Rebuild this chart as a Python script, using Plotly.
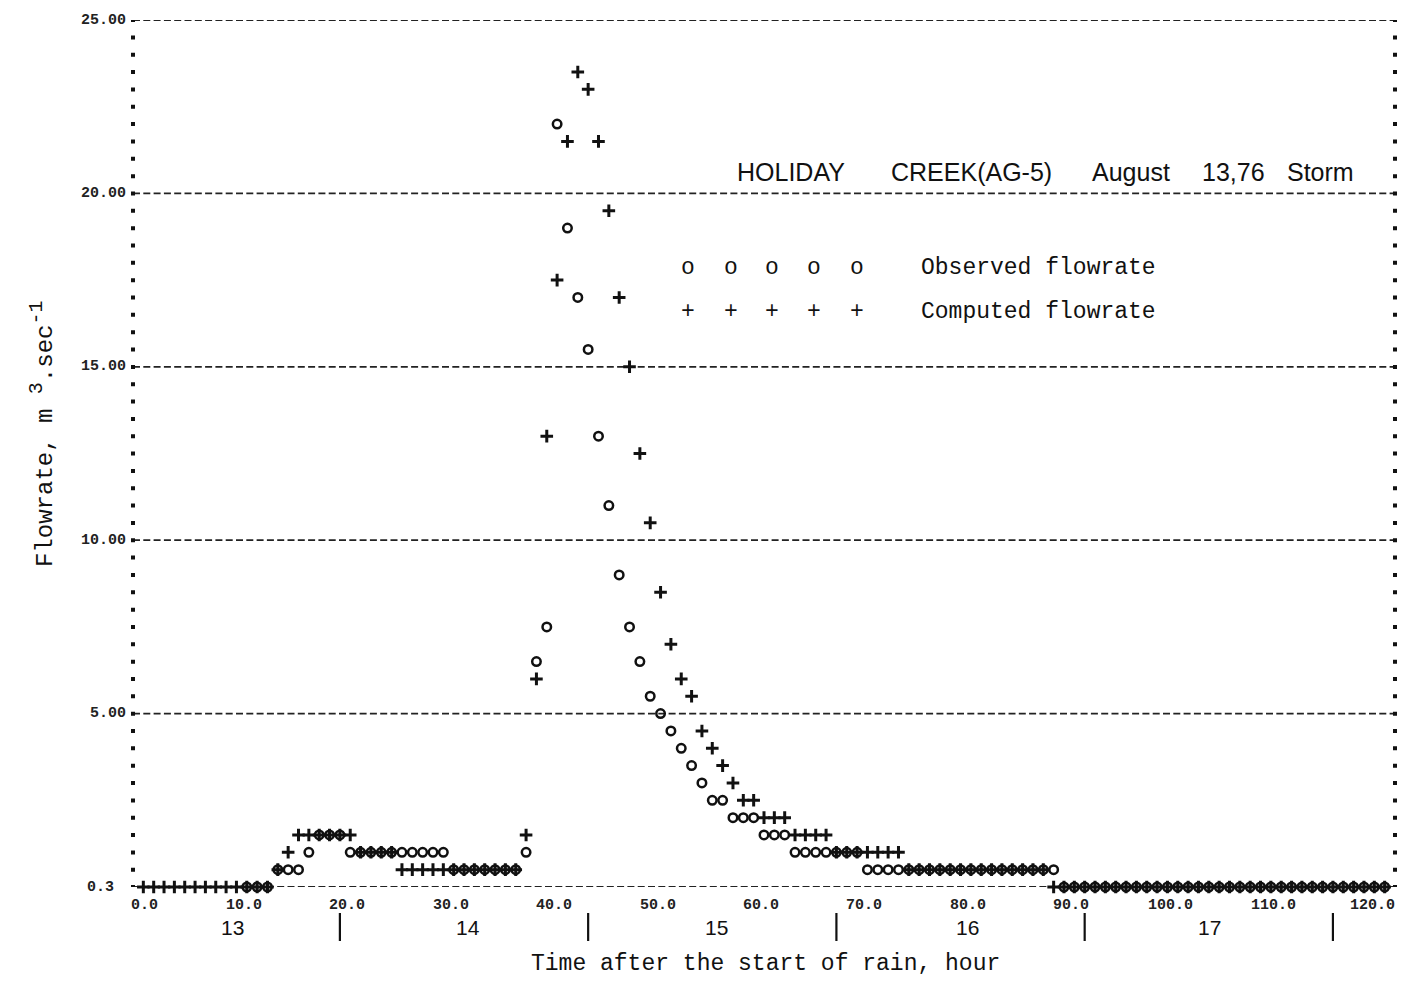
import plotly.graph_objects as go

# ---------------- data ----------------
comp_hours = list(range(0, 121))
computed = [
    0, 0, 0, 0, 0, 0, 0, 0, 0, 0, 0, 0, 0,          # 0-12
    0.5, 1.0,                                        # 13-14
    1.5, 1.5, 1.5, 1.5, 1.5, 1.5,                    # 15-20
    1.0, 1.0, 1.0, 1.0,                              # 21-24
    0.5, 0.5, 0.5, 0.5, 0.5, 0.5, 0.5, 0.5, 0.5, 0.5, 0.5, 0.5,  # 25-36
    1.5, 6.0, 13.0, 17.5, 21.5, 23.5, 23.0, 21.5, 19.5, 17.0,    # 37-46
    15.0, 12.5, 10.5, 8.5, 7.0, 6.0, 5.5, 4.5, 4.0, 3.5, 3.0,    # 47-57
    2.5, 2.5,                                        # 58-59
    2.0, 2.0, 2.0,                                   # 60-62
    1.5, 1.5, 1.5, 1.5,                              # 63-66
    1.0, 1.0, 1.0, 1.0, 1.0, 1.0, 1.0,               # 67-73
    0.5, 0.5, 0.5, 0.5, 0.5, 0.5, 0.5, 0.5, 0.5, 0.5, 0.5, 0.5, 0.5, 0.5,  # 74-87
    0, 0, 0, 0, 0, 0, 0, 0, 0, 0, 0, 0, 0, 0, 0, 0, 0,   # 88-104
    0, 0, 0, 0, 0, 0, 0, 0, 0, 0, 0, 0, 0, 0, 0, 0,      # 105-120
]

obs_hours = list(range(10, 121))
observed = [
    0, 0, 0,                                         # 10-12
    0.5, 0.5, 0.5,                                   # 13-15
    1.0,                                             # 16
    1.5, 1.5, 1.5,                                   # 17-19
    1.0, 1.0, 1.0, 1.0, 1.0, 1.0, 1.0, 1.0, 1.0, 1.0,  # 20-29
    0.5, 0.5, 0.5, 0.5, 0.5, 0.5, 0.5,               # 30-36
    1.0, 6.5, 7.5, 22.0, 19.0, 17.0, 15.5, 13.0, 11.0,  # 37-45
    9.0, 7.5, 6.5, 5.5, 5.0, 4.5, 4.0, 3.5, 3.0,     # 46-54
    2.5, 2.5,                                        # 55-56
    2.0, 2.0, 2.0,                                   # 57-59
    1.5, 1.5, 1.5,                                   # 60-62
    1.0, 1.0, 1.0, 1.0, 1.0, 1.0, 1.0,               # 63-69
    0.5, 0.5, 0.5, 0.5, 0.5, 0.5, 0.5, 0.5, 0.5, 0.5,  # 70-79
    0.5, 0.5, 0.5, 0.5, 0.5, 0.5, 0.5, 0.5, 0.5,     # 80-88
    0, 0, 0, 0, 0, 0, 0, 0, 0, 0, 0, 0, 0, 0, 0, 0,  # 89-104
    0, 0, 0, 0, 0, 0, 0, 0, 0, 0, 0, 0, 0, 0, 0, 0,  # 105-120
]

x_ticks = [0, 10, 20, 30, 40, 50, 60, 70, 80, 90, 100, 110, 120]
x_tick_labels = ["0.0", "10.0", "20.0", "30.0", "40.0", "50.0", "60.0",
                 "70.0", "80.0", "90.0", "100.0", "110.0", "120.0"]
y_ticks = [0, 5, 10, 15, 20, 25]
y_tick_labels = ["0.3", "5.00", "10.00", "15.00", "20.00", "25.00"]

day_labels = ["13", "14", "15", "16", "17"]
day_label_hours = [8.6, 31.4, 55.4, 79.7, 103.1]
midnight_hours = [19, 43, 67, 91, 115]

title_words = ["HOLIDAY", "CREEK(AG-5)", "August", "13,76", "Storm"]
legend_names = ["Observed flowrate", "Computed flowrate"]
x_title = "Time after the start of rain, hour"
y_title = ("Flowrate, m\u00a0<sup><span style='font-size:20px'>3</span></sup>.sec"
           "<sup><span style='font-size:20px'>-1</span></sup>")

# ---------------- layout geometry ----------------
# The page body has an 8px margin, so the figure is placed 8px in from the
# window corner; all reference positions below are window pixels.
OFF = 8
W, H = 1405 - 2 * OFF, 989 - 2 * OFF
PLOT_L, PLOT_R, PLOT_T, PLOT_B = 133, 1395, 20, 887   # window pixels
ML, MT = PLOT_L - OFF, PLOT_T - OFF
MR, MB = W - (PLOT_R - OFF), H - (PLOT_B - OFF)
PW, PH = PLOT_R - PLOT_L, PLOT_B - PLOT_T


def pxx(px):
    return (px - PLOT_L) / PW


def pxy(py):
    return (PLOT_B - py) / PH


MONO = "Liberation Mono, Courier New, monospace"
SANS = "Liberation Sans, Arial, sans-serif"
INK = "#111111"

fig = go.Figure()

fig.add_trace(go.Scatter(
    x=obs_hours, y=observed, mode="markers", name=legend_names[0],
    marker=dict(symbol="circle-open", size=8.5, color=INK,
                line=dict(width=2.5, color=INK)),
    showlegend=False, cliponaxis=False,
))
fig.add_trace(go.Scatter(
    x=comp_hours, y=computed, mode="markers", name=legend_names[1],
    marker=dict(symbol="cross-thin-open", size=9, color=INK,
                line=dict(width=3, color=INK)),
    showlegend=False, cliponaxis=False,
))

shapes = []
for v in y_ticks:
    shapes.append(dict(type="line", xref="paper", yref="y", x0=0, x1=1, y0=v, y1=v,
                       line=dict(color="#222222", width=1.8, dash="7px,3.3px"),
                       layer="below"))
for xv in (0, 1):
    shapes.append(dict(type="line", xref="paper", yref="y", x0=xv, x1=xv,
                       y0=-0.06, y1=25.06,
                       line=dict(color="#111111", width=4, dash="4px,13.34px"),
                       layer="below"))
for hv in midnight_hours:
    shapes.append(dict(type="line", xref="x", yref="paper", x0=hv, x1=hv,
                       y0=pxy(913), y1=pxy(941),
                       line=dict(color=INK, width=2.2)))

ann = []
for v, t in zip(x_ticks, x_tick_labels):
    ann.append(dict(x=v, y=pxy(905), xref="x", yref="paper", text="<b>" + t + "</b>",
                    xanchor="right", yanchor="middle", xshift=17 if v < 120 else 12,
                    showarrow=False,
                    font=dict(family=MONO, size=15, color="#222222")))
for v, t in zip(y_ticks, y_tick_labels):
    right = 116 if t == "0.3" else 128
    ann.append(dict(x=pxx(right), y=v, xref="paper", yref="y", text="<b>" + t + "</b>",
                    xanchor="right", yanchor="middle", showarrow=False,
                    font=dict(family=MONO, size=15, color="#222222")))
for hv, t in zip(day_label_hours, day_labels):
    ann.append(dict(x=hv, y=pxy(928), xref="x", yref="paper", text=t,
                    xanchor="center", yanchor="middle", showarrow=False,
                    font=dict(family=SANS, size=21, color=INK)))

ann.append(dict(x=pxx(765), y=pxy(964), xref="paper", yref="paper", text=x_title,
                xanchor="center", yanchor="middle", showarrow=False,
                font=dict(family=MONO, size=23, color=INK)))
ann.append(dict(x=pxx(42), y=pxy(434), xref="paper", yref="paper", text=y_title,
                textangle=-90, xanchor="center", yanchor="middle", showarrow=False,
                font=dict(family=MONO, size=24, color=INK)))

title_left_px = [735, 889, 1090, 1200, 1285]
for word, px in zip(title_words, title_left_px):
    ann.append(dict(x=pxx(px), y=pxy(172), xref="paper", yref="paper", text=word,
                    xanchor="left", yanchor="middle", showarrow=False,
                    font=dict(family=SANS, size=25, color=INK)))

legend_symbol_px = [688, 731, 772, 814, 857]
for sym, py in (("o", 268), ("+", 312)):
    for px in legend_symbol_px:
        ann.append(dict(x=pxx(px), y=pxy(py), xref="paper", yref="paper", text=sym,
                        xanchor="center", yanchor="middle", showarrow=False,
                        font=dict(family=MONO, size=23, color=INK)))
for name, py in zip(legend_names, (268, 312)):
    ann.append(dict(x=pxx(919), y=pxy(py), xref="paper", yref="paper", text=name,
                    xanchor="left", yanchor="middle", showarrow=False,
                    font=dict(family=MONO, size=23, color=INK)))

fig.update_layout(
    width=W, height=H,
    margin=dict(l=ML, r=MR, t=MT, b=MB, pad=0),
    paper_bgcolor="white", plot_bgcolor="white",
    xaxis=dict(range=[-1, 121], showgrid=False, zeroline=False, showline=False,
               showticklabels=False, ticks="", fixedrange=True),
    yaxis=dict(range=[0, 25], showgrid=False, zeroline=False, showline=False,
               showticklabels=False, ticks="", fixedrange=True),
    shapes=shapes, annotations=ann, showlegend=False,
)

fig.write_html("out.html")
